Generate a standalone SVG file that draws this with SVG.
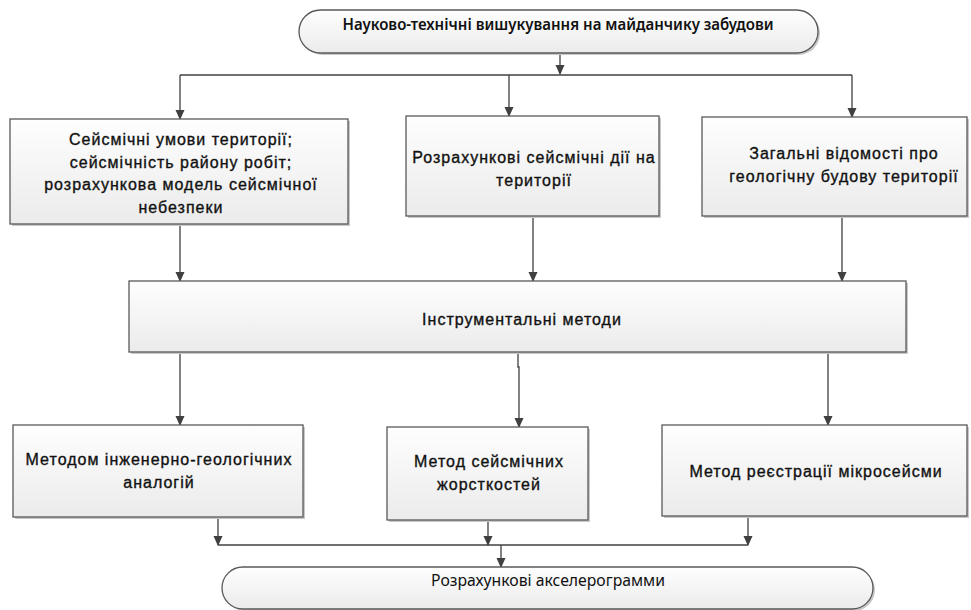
<svg xmlns="http://www.w3.org/2000/svg" width="971" height="610" viewBox="0 0 971 610">
<defs>
<linearGradient id="g" x1="0" y1="0" x2="0" y2="1">
<stop offset="0" stop-color="#fefefe"/>
<stop offset="1" stop-color="#ebebeb"/>
</linearGradient>
<marker id="ah" markerWidth="10" markerHeight="10" refX="9" refY="4.5" orient="auto" markerUnits="userSpaceOnUse">
<path d="M0,0 L10,4.5 L0,9 Z" fill="#404040"/>
</marker>
</defs>
<style>
.box{fill:url(#g);stroke:#595959;stroke-width:1.3}
.sh{fill:#c8c8c8}
.t{font-family:"Liberation Sans",Arial,sans-serif;font-size:16px;letter-spacing:1px;fill:#111;stroke:#111;stroke-width:0.35;text-anchor:middle}
.p{font-family:"Noto Sans","Open Sans",sans-serif;font-size:16px;fill:#111;text-anchor:middle}
.c{fill:none;stroke:#404040;stroke-width:1.3}
.a{marker-end:url(#ah)}
</style>
<rect width="971" height="610" fill="#fff"/>

<g id="connectors">
<path class="c a" d="M560,53 V74"/>
<path class="c" d="M180,75 H852"/>
<path class="c a" d="M180,75 V119"/>
<path class="c a" d="M509,75 V116"/>
<path class="c a" d="M852,75 V117"/>
<path class="c a" d="M180,224 V281"/>
<path class="c a" d="M533,216 V281"/>
<path class="c a" d="M842,216 V281"/>
<path class="c a" d="M180,352 V425"/>
<path class="c a" d="M518,352 V367 H519 V427"/>
<path class="c a" d="M828,352 V425"/>
<path class="c a" d="M218,517 V545"/>
<path class="c a" d="M488,520 V545"/>
<path class="c a" d="M748,516 V545"/>
<path class="c" d="M218,545 H748"/>
<path class="c a" d="M501,545 V567"/>
</g>

<g id="n-top">
<rect class="sh" x="301" y="12" width="519" height="43" rx="21.5"/>
<rect class="box" x="299" y="10" width="519" height="43" rx="21.5"/>
<text class="p" x="558" y="30" font-weight="600" textLength="431" lengthAdjust="spacingAndGlyphs">Науково-технічні вишукування на майданчику забудови</text>
</g>

<g id="n-seismic">
<rect class="sh" x="12" y="121" width="338" height="105"/>
<rect class="box" x="10" y="119" width="338" height="105"/>
<text class="t" x="181" y="145">Сейсмічні умови території;</text>
<text class="t" x="181" y="167.5">сейсмічність району робіт;</text>
<text class="t" x="181" y="190">розрахункова модель сейсмічної</text>
<text class="t" x="181" y="212.5">небезпеки</text>
</g>

<g id="n-actions">
<rect class="sh" x="408" y="118" width="253" height="100"/>
<rect class="box" x="406" y="116" width="253" height="100"/>
<text class="t" x="534" y="163">Розрахункові сейсмічні дії на</text>
<text class="t" x="534" y="185.5">території</text>
</g>

<g id="n-geology">
<rect class="sh" x="704" y="119" width="265" height="99"/>
<rect class="box" x="702" y="117" width="265" height="99"/>
<text class="t" x="844" y="159">Загальні відомості про</text>
<text class="t" x="844" y="181.5">геологічну будову території</text>
</g>

<g id="n-instr">
<rect class="sh" x="131" y="283" width="777" height="71"/>
<rect class="box" x="129" y="281" width="777" height="71"/>
<text class="t" x="522" y="325">Інструментальні методи</text>
</g>

<g id="n-analog">
<rect class="sh" x="15" y="427" width="290" height="92"/>
<rect class="box" x="13" y="425" width="290" height="92"/>
<text class="t" x="159" y="465">Методом інженерно-геологічних</text>
<text class="t" x="159" y="487.5">аналогій</text>
</g>

<g id="n-stiff">
<rect class="sh" x="389" y="429" width="201" height="93"/>
<rect class="box" x="387" y="427" width="201" height="93"/>
<text class="t" x="489" y="467">Метод сейсмічних</text>
<text class="t" x="489" y="489.5">жорсткостей</text>
</g>

<g id="n-micro">
<rect class="sh" x="664" y="427" width="305" height="91"/>
<rect class="box" x="662" y="425" width="305" height="91"/>
<text class="t" x="816" y="477">Метод реєстрації мікросейсми</text>
</g>

<g id="n-bottom">
<rect class="sh" x="224" y="569" width="651" height="42" rx="21"/>
<rect class="box" x="222" y="567" width="651" height="42" rx="21"/>
<text class="p" x="548" y="586" textLength="234" lengthAdjust="spacingAndGlyphs">Розрахункові акселерограмми</text>
</g>
</svg>
